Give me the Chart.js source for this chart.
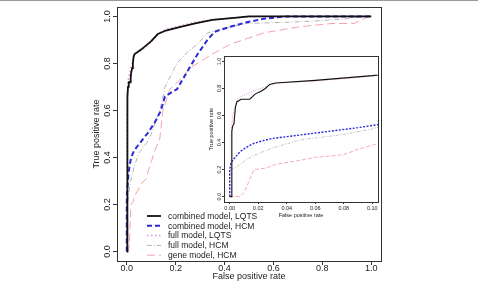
<!DOCTYPE html>
<html>
<head>
<meta charset="utf-8">
<script src="https://cdn.jsdelivr.net/npm/chart.js@4.4.1/dist/chart.umd.min.js"></script>
<style>
  html, body { margin: 0; padding: 0; background: #fff; }
  #wrap { position: relative; width: 478px; height: 282px; overflow: hidden; }
  #topline { position: absolute; left: 0; top: 0; width: 478px; height: 1px; background: #9a9a9a; }
  #main { position: absolute; left: 0; top: 0; }
  #inset { position: absolute; left: 200px; top: 50px; }
</style>
</head>
<body>
<div id="wrap">
  <canvas id="main" width="478" height="282"></canvas>
  <canvas id="inset" width="190" height="170"></canvas>
  <div id="topline"></div>
</div>
<script>
const FONT = "'Liberation Sans', Arial, sans-serif";

const seriesNames = ['combined model, LQTS', 'combined model, HCM', 'full model, LQTS', 'full model, HCM', 'gene model, HCM'];

// ROC curves (false positive rate / true positive rate)
const combLqtsFpr = [0, 0.0015, 0.0015, 0.002, 0.003, 0.004, 0.005, 0.008, 0.014, 0.016, 0.018, 0.022, 0.025, 0.028, 0.032, 0.06, 0.1, 0.127, 0.16, 0.22, 0.28, 0.35, 0.45, 0.5, 1];
const combLqtsTpr = [0, 0, 0.48, 0.52, 0.54, 0.66, 0.70, 0.72, 0.72, 0.74, 0.76, 0.78, 0.80, 0.83, 0.84, 0.86, 0.895, 0.925, 0.94, 0.955, 0.97, 0.985, 0.995, 1, 1];

const combHcmFpr = [0, 0, 0.001, 0.003, 0.007, 0.011, 0.016, 0.022, 0.03, 0.045, 0.06, 0.09, 0.115, 0.14, 0.156, 0.18, 0.205, 0.25, 0.29, 0.33, 0.36, 0.42, 0.49, 0.56, 0.65, 1];
const combHcmTpr = [0, 0.2, 0.25, 0.28, 0.33, 0.36, 0.39, 0.41, 0.43, 0.45, 0.47, 0.51, 0.55, 0.60, 0.66, 0.675, 0.69, 0.77, 0.84, 0.90, 0.935, 0.955, 0.975, 0.99, 1, 1];

const fullLqtsFpr = [0, 0.001, 0.001, 0.002, 0.004, 0.006, 0.01, 0.016, 0.022, 0.03, 0.035, 0.06, 0.1, 0.127, 0.16, 0.22, 0.28, 0.35, 0.45, 0.55, 1];
const fullLqtsTpr = [0, 0, 0.45, 0.6, 0.68, 0.73, 0.75, 0.78, 0.80, 0.83, 0.84, 0.855, 0.89, 0.925, 0.945, 0.96, 0.975, 0.985, 0.995, 1, 1];

const fullHcmFpr = [0, 0, 0.005, 0.01, 0.016, 0.03, 0.05, 0.08, 0.1, 0.12, 0.135, 0.156, 0.205, 0.25, 0.287, 0.33, 0.4, 0.49, 0.65, 0.76, 0.9, 0.98, 1];
const fullHcmTpr = [0, 0.2, 0.22, 0.26, 0.30, 0.36, 0.42, 0.46, 0.5, 0.56, 0.6, 0.7, 0.8, 0.85, 0.88, 0.93, 0.95, 0.97, 0.975, 0.98, 0.99, 1, 1];

const geneHcmFpr = [0, 0.007, 0.01, 0.013, 0.017, 0.025, 0.033, 0.045, 0.06, 0.08, 0.09, 0.1, 0.115, 0.135, 0.148, 0.176, 0.217, 0.258, 0.35, 0.42, 0.56, 0.70, 0.84, 0.93, 0.99];
const geneHcmTpr = [0, 0, 0.03, 0.1, 0.2, 0.21, 0.24, 0.26, 0.29, 0.31, 0.35, 0.38, 0.43, 0.48, 0.60, 0.69, 0.73, 0.78, 0.84, 0.88, 0.93, 0.955, 0.97, 0.97, 1];

const xTicks = [0, 0.2, 0.4, 0.6, 0.8, 1.0];
const yTicks = [0, 0.2, 0.4, 0.6, 0.8, 1.0];
const insetXTicks = [0, 0.02, 0.04, 0.06, 0.08, 0.10];
const insetYTicks = [0, 0.2, 0.4, 0.6, 0.8, 1.0];

const pts = (fpr, tpr) => fpr.map((x, i) => ({ x, y: tpr[i] }));
const curves = [
  pts(combLqtsFpr, combLqtsTpr),
  pts(combHcmFpr, combHcmTpr),
  pts(fullLqtsFpr, fullLqtsTpr),
  pts(fullHcmFpr, fullHcmTpr),
  pts(geneHcmFpr, geneHcmTpr)
];

// line look per series: colour, width, dash (main), width, dash (inset)
const looks = [
  { color: '#111111', w: 1.8, dash: [],          iw: 1.1, idash: [] },
  { color: '#2a2ad8', w: 2,   dash: [5, 3],      iw: 1.4, idash: [2, 1.5] },
  { color: '#e48ad6', w: 1.5, dash: [1.5, 2.5],  iw: 1,   idash: [1, 1.5] },
  { color: '#b4b4b4', w: 1,   dash: [5, 2, 1, 2], iw: 0.8, idash: [3, 1.5, 1, 1.5] },
  { color: '#f4a2ad', w: 1,   dash: [8, 4],      iw: 0.9, idash: [4, 2] }
];

function datasets(inset) {
  return curves.map((data, i) => ({
    label: seriesNames[i],
    data,
    showLine: true,
    borderColor: looks[i].color,
    borderWidth: inset ? looks[i].iw : looks[i].w,
    borderDash: inset ? looks[i].idash : looks[i].dash,
    pointRadius: 0,
    tension: 0,
    fill: false
  }));
}

// box round the plot, rotated y tick labels (R style) and an optional legend
const rStyle = {
  id: 'rStyle',
  beforeDraw(chart, args, opts) {
    if (!opts.whiteArea) return;
    const a = chart.chartArea, c = chart.ctx;
    c.save(); c.fillStyle = '#fff';
    c.fillRect(a.left, a.top, a.right - a.left, a.bottom - a.top);
    c.restore();
  },
  afterDraw(chart, args, opts) {
    const a = chart.chartArea, c = chart.ctx, ys = chart.scales.y;
    c.save();
    c.strokeStyle = '#333'; c.lineWidth = 1;
    c.strokeRect(Math.round(a.left) + 0.5, Math.round(a.top) + 0.5, Math.round(a.right - a.left), Math.round(a.bottom - a.top));
    c.fillStyle = '#222';
    c.font = opts.tickSize + 'px ' + FONT;
    c.textAlign = 'center'; c.textBaseline = 'middle';
    opts.yTicks.forEach(v => {
      c.save();
      c.translate(opts.yLabelX, ys.getPixelForValue(v));
      c.rotate(-Math.PI / 2);
      c.fillText(v.toFixed(1), 0, 0);
      c.restore();
    });
    if (opts.legend) {
      const L = opts.legend;
      c.font = L.size + 'px ' + FONT;
      c.textAlign = 'left';
      chart.data.datasets.forEach((ds, i) => {
        const y = L.y + i * L.gap;
        c.beginPath();
        c.strokeStyle = ds.borderColor;
        c.lineWidth = ds.borderWidth;
        c.setLineDash(ds.borderDash);
        c.moveTo(L.x0, y); c.lineTo(L.x1, y);
        c.stroke();
        c.setLineDash([]);
        c.fillStyle = '#222';
        c.fillText(ds.label, L.tx, y + 0.5);
      });
    }
    c.restore();
  }
};

function axes(cfg) {
  return {
    x: {
      type: 'linear', min: cfg.xmin, max: cfg.xmax,
      afterBuildTicks: s => { s.ticks = cfg.xt.map(v => ({ value: v })); },
      afterFit: s => { s.height = cfg.xh; },
      grid: { drawOnChartArea: false, drawTicks: true, tickLength: cfg.tl, color: '#333' },
      border: { display: false },
      ticks: { color: '#222', font: { family: FONT, size: cfg.fs }, padding: cfg.tpad, maxRotation: 0,
               callback: v => v.toFixed(cfg.dec) },
      title: { display: true, text: 'False positive rate', color: '#222',
               font: { family: FONT, size: cfg.fs }, padding: { top: 0, bottom: cfg.xtitlePad } }
    },
    y: {
      type: 'linear', min: -0.04, max: 1.04,
      afterBuildTicks: s => { s.ticks = cfg.yt.map(v => ({ value: v })); },
      afterFit: s => { s.width = cfg.yw; },
      grid: { drawOnChartArea: false, drawTicks: true, tickLength: cfg.tl, color: '#333' },
      border: { display: false },
      ticks: { display: false },
      title: { display: true, text: 'True positive rate', color: '#222',
               font: { family: FONT, size: cfg.fs }, padding: { top: cfg.ytitlePad, bottom: 0 } }
    }
  };
}

const common = { responsive: false, animation: false, events: [] };

new Chart(document.getElementById('main'), {
  type: 'scatter',
  data: { datasets: datasets(false) },
  options: Object.assign({}, common, {
    layout: { padding: { left: 0, right: 97, top: 7, bottom: 0 } },
    scales: axes({ xmin: -0.04, xmax: 1.04, xt: xTicks, yt: yTicks, xh: 21, yw: 117, tl: 4, fs: 9,
                   tpad: -2, dec: 1, xtitlePad: 0, ytitlePad: 91.6 }),
    plugins: {
      legend: { display: false }, tooltip: { enabled: false },
      rStyle: { yTicks, yLabelX: 108, tickSize: 9,
                legend: { x0: 147, x1: 161, tx: 168, y: 216, gap: 9.8, size: 8.5 } }
    }
  }),
  plugins: [rStyle]
});

new Chart(document.getElementById('inset'), {
  type: 'scatter',
  data: { datasets: datasets(true) },
  options: Object.assign({}, common, {
    layout: { padding: { left: 0, right: 12, top: 6, bottom: 0 } },
    scales: axes({ xmin: -0.004, xmax: 0.104, xt: insetXTicks, yt: insetYTicks, xh: 18, yw: 24, tl: 2, fs: 5.5,
                   tpad: 1, dec: 2, xtitlePad: 1, ytitlePad: 7.7 }),
    plugins: {
      legend: { display: false }, tooltip: { enabled: false },
      rStyle: { whiteArea: true, yTicks: insetYTicks, yLabelX: 19, tickSize: 5.5 }
    }
  }),
  plugins: [rStyle]
});
</script>
</body>
</html>
